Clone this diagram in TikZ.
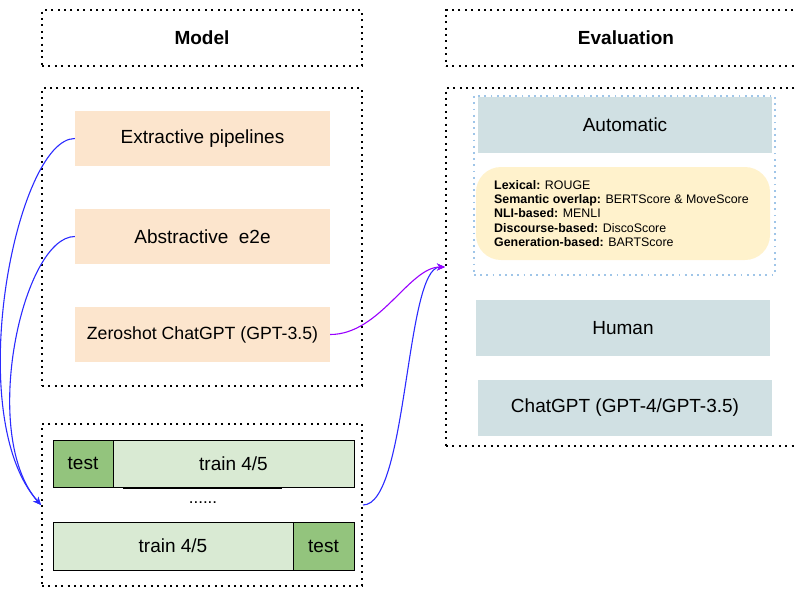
\documentclass[tikz,border=0pt]{standalone}
\usepackage{fontspec}
\setmainfont{Liberation Sans}
\usetikzlibrary{arrows.meta}
\definecolor{peach}{HTML}{FCE5CD}
\definecolor{slate}{HTML}{D0E0E3}
\definecolor{cream}{HTML}{FFF2CC}
\definecolor{paleGreen}{HTML}{D9EAD3}
\definecolor{midGreen}{HTML}{93C47D}
\definecolor{dotBlue}{HTML}{9FC5E8}
\definecolor{linkBlue}{HTML}{2B2BFF}
\definecolor{linkPurple}{HTML}{9900FF}

\begin{document}
\begin{tikzpicture}[x=1pt,y=1pt]
            \tikzstyle{every node}+=[inner sep=0pt]
            \tikzstyle{dotbox}=[draw=black, line width=2pt, dash pattern=on 2pt off 4.4pt]
            \tikzstyle{bluedots}=[draw=dotBlue, line width=1.8pt, dash pattern=on 1.8pt off 4.4pt]
            \tikzstyle{big}=[font=\fontsize{19}{22}\selectfont]
            \tikzstyle{modelbox}=[fill=peach, big, minimum width=255, minimum height=55]
            \tikzstyle{evalbox}=[fill=slate, big, minimum width=294, minimum height=56]
            \tikzstyle{foldcell}=[draw=black, line width=0.8pt, big, minimum height=47]
            \tikzstyle{link}=[line width=1.1pt, -{Stealth[length=8pt,width=7pt]}]
            \useasboundingbox (0,0) rectangle (797,-589);
            \clip (0,0) rectangle (797,-589);
            % titles
            \node [dotbox, big, minimum width=320, minimum height=56] (modeltitle) at (202,-38) {\textbf{Model}};
            \node [dotbox, big, minimum width=360, minimum height=56] (evaltitle) at (626,-38) {\textbf{Evaluation}};
            % model side
            \node [dotbox, minimum width=320, minimum height=298] (models) at (202,-237) {};
            \node [modelbox] (extr) at (202.5,-138.5) {Extractive pipelines};
            \node [modelbox] (abstr) at (202.5,-236.5) {Abstractive\ \ e2e};
            \node [modelbox, font=\fontsize{17.7}{21}\selectfont] (zeroshot) at (202.5,-334.5) {Zeroshot ChatGPT (GPT-3.5)};
            % cross validation
            \node [dotbox, minimum width=320, minimum height=162] (fold) at (202,-505) {};
            \node [foldcell, fill=midGreen, minimum width=60] (testA) at (83,-463.5) {test};
            \node [foldcell, fill=paleGreen, minimum width=241] (trainA) at (233.5,-463.5) {train 4/5};
            \node [font=\fontsize{17}{20}\selectfont] (gap) at (203,-503) {......};
            \node [foldcell, fill=paleGreen, minimum width=240, minimum height=48] (trainB) at (173,-546) {train 4/5};
            \node [foldcell, fill=midGreen, minimum width=61, minimum height=48] (testB) at (323.5,-546) {test};
            \draw [black, line width=1.8pt] (123,-488) -- (282,-488);
            % evaluation side
            \node [dotbox, minimum width=360, minimum height=358] (evals) at (626,-267) {};
            \node [bluedots, minimum width=301, minimum height=179] (autogroup) at (624.5,-185.5) {};
            \node [evalbox] (auto) at (625,-125) {Automatic};
            \node [fill=cream, rounded corners=25pt, minimum width=294, minimum height=93] (metrics) at (623,-213.5) {};
            \node [anchor=west, align=left, font=\fontsize{12.4}{14.4}\selectfont] (metriclist) at (494,-213.5)
                {\textbf{Lexical:} ROUGE\\
                 \textbf{Semantic overlap:} BERTScore \& MoveScore\\
                 \textbf{NLI-based:} MENLI\\
                 \textbf{Discourse-based:} DiscoScore\\
                 \textbf{Generation-based:} BARTScore};
            \node [evalbox] (human) at (623,-328) {Human};
            \node [evalbox] (gptjudge) at (625,-408) {ChatGPT (GPT-4/GPT-3.5)};
            % links
            \draw [link, linkBlue] (extr.west) .. controls +(-58,0) and +(-80,90) .. (fold.west);
            \draw [link, linkBlue] (abstr.west) .. controls +(-52,0) and +(-62,70) .. (fold.west);
            \draw [link, linkBlue] (fold.east) .. controls +(45,0) and +(-40,0) .. (evals.west);
            \draw [link, linkPurple] (zeroshot.east) .. controls +(50,0) and +(-36,0) .. (evals.west);
        \end{tikzpicture}
\end{document}
